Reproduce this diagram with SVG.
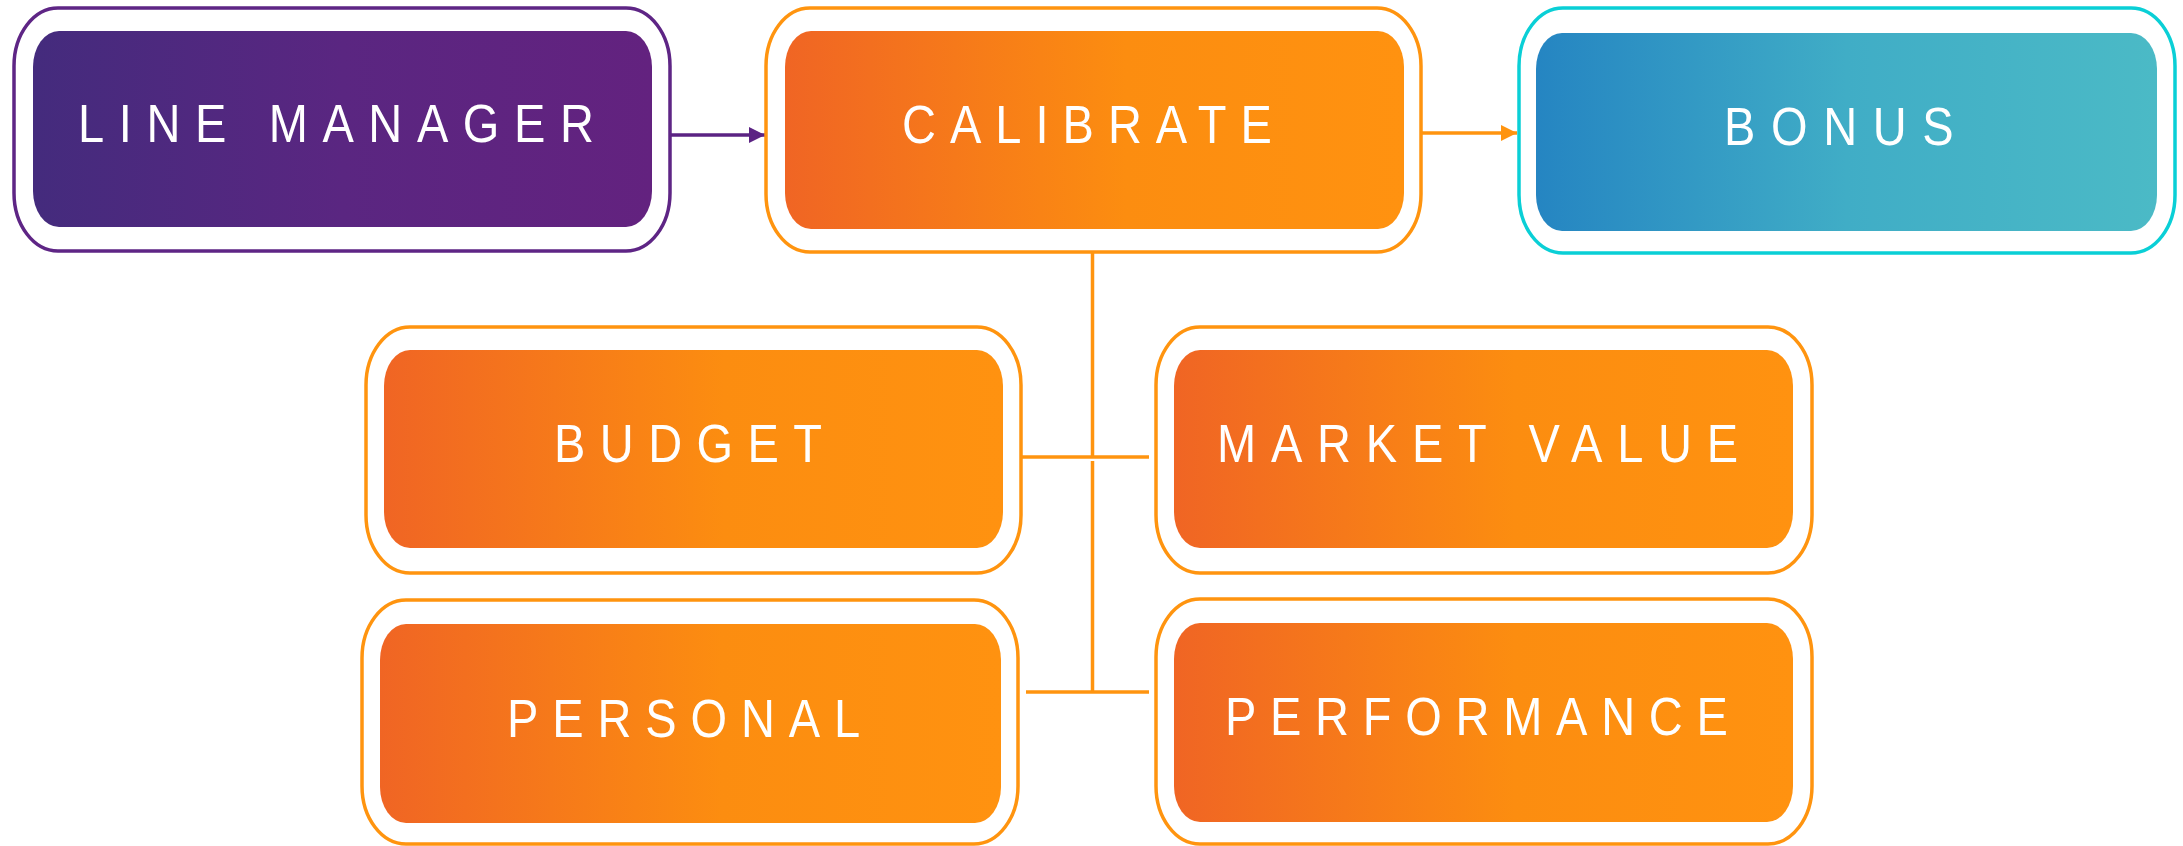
<svg xmlns="http://www.w3.org/2000/svg" width="2183" height="846" viewBox="0 0 2183 846">
  <style>
    .frame { fill: #ffffff; stroke-width: 3.5; }
    .frame.purple { stroke: #5E2585; }
    .frame.orange { stroke: #FF940F; }
    .frame.cyan { stroke: #0ACFD6; }
    .label { fill: #ffffff; font-family: "Liberation Sans", Arial, sans-serif; font-size: 54px; }
    .link { fill: none; stroke-width: 3.5; }
    .link.purple { stroke: #5B2383; }
    .link.orange { stroke: #FF940F; }
  </style>
  <defs>
    <linearGradient id="gPurple" x1="0" y1="0" x2="1" y2="0">
      <stop offset="0" stop-color="#442B7D"/>
      <stop offset="0.5" stop-color="#5A2681"/>
      <stop offset="1" stop-color="#63227F"/>
    </linearGradient>
    <linearGradient id="gOrange" x1="0" y1="0" x2="1" y2="0">
      <stop offset="0" stop-color="#F06524"/>
      <stop offset="0.55" stop-color="#FC8D10"/>
      <stop offset="1" stop-color="#FF9210"/>
    </linearGradient>
    <linearGradient id="gBlue" x1="0" y1="0" x2="1" y2="0">
      <stop offset="0" stop-color="#2585C2"/>
      <stop offset="0.5" stop-color="#40ADC6"/>
      <stop offset="1" stop-color="#4BBAC6"/>
    </linearGradient>
    <marker id="arrowPurple" markerUnits="userSpaceOnUse" markerWidth="16" markerHeight="16" refX="16" refY="8" orient="auto">
      <path d="M0,0 L16,8 L0,16 z" fill="#5B2383"/>
    </marker>
    <marker id="arrowOrange" markerUnits="userSpaceOnUse" markerWidth="16" markerHeight="16" refX="16" refY="8" orient="auto">
      <path d="M0,0 L16,8 L0,16 z" fill="#FF940F"/>
    </marker>
  </defs>

  <!-- connectors -->
  <g id="connectors">
    <line class="link purple" x1="670" y1="135" x2="765" y2="135" marker-end="url(#arrowPurple)"/>
    <line class="link orange" x1="1422" y1="133" x2="1517" y2="133" marker-end="url(#arrowOrange)"/>
    <line class="link orange" x1="1092.5" y1="252" x2="1092.5" y2="457"/>
    <line class="link orange" x1="1021" y1="457" x2="1149" y2="457"/>
    <line class="link orange" x1="1092.5" y1="461" x2="1092.5" y2="692"/>
    <line class="link orange" x1="1026" y1="692" x2="1149" y2="692"/>
  </g>

  <g id="line-manager">
    <rect class="frame purple" x="14" y="8" width="656" height="243" rx="44" ry="58"/>
    <rect x="33" y="31" width="619" height="196" rx="26" ry="36" fill="url(#gPurple)"/>
    <text class="label" transform="scale(0.87,1)" x="89.7" y="142" textLength="593" lengthAdjust="spacing">LINE MANAGER</text>
  </g>

  <g id="calibrate">
    <rect class="frame orange" x="766" y="8" width="655" height="244" rx="44" ry="58"/>
    <rect x="785" y="31" width="619" height="198" rx="26" ry="36" fill="url(#gOrange)"/>
    <text class="label" transform="scale(0.87,1)" x="1036.8" y="143" textLength="425" lengthAdjust="spacing">CALIBRATE</text>
  </g>

  <g id="bonus">
    <rect class="frame cyan" x="1519" y="8" width="656" height="245" rx="44" ry="58"/>
    <rect x="1536" y="33" width="621" height="198" rx="26" ry="36" fill="url(#gBlue)"/>
    <text class="label" transform="scale(0.87,1)" x="1981.6" y="145" textLength="264" lengthAdjust="spacing">BONUS</text>
  </g>

  <g id="budget">
    <rect class="frame orange" x="366" y="327" width="655" height="246" rx="44" ry="58"/>
    <rect x="384" y="350" width="619" height="198" rx="26" ry="36" fill="url(#gOrange)"/>
    <text class="label" transform="scale(0.87,1)" x="636.8" y="462" textLength="308" lengthAdjust="spacing">BUDGET</text>
  </g>

  <g id="market-value">
    <rect class="frame orange" x="1156" y="327" width="656" height="246" rx="44" ry="58"/>
    <rect x="1174" y="350" width="619" height="198" rx="26" ry="36" fill="url(#gOrange)"/>
    <text class="label" transform="scale(0.87,1)" x="1398.9" y="462" textLength="599" lengthAdjust="spacing">MARKET VALUE</text>
  </g>

  <g id="personal">
    <rect class="frame orange" x="362" y="600" width="656" height="244" rx="44" ry="58"/>
    <rect x="380" y="624" width="621" height="199" rx="26" ry="36" fill="url(#gOrange)"/>
    <text class="label" transform="scale(0.87,1)" x="582.8" y="737" textLength="406" lengthAdjust="spacing">PERSONAL</text>
  </g>

  <g id="performance">
    <rect class="frame orange" x="1156" y="599" width="656" height="245" rx="44" ry="58"/>
    <rect x="1174" y="623" width="619" height="199" rx="26" ry="36" fill="url(#gOrange)"/>
    <text class="label" transform="scale(0.87,1)" x="1408" y="735" textLength="578" lengthAdjust="spacing">PERFORMANCE</text>
  </g>
</svg>
